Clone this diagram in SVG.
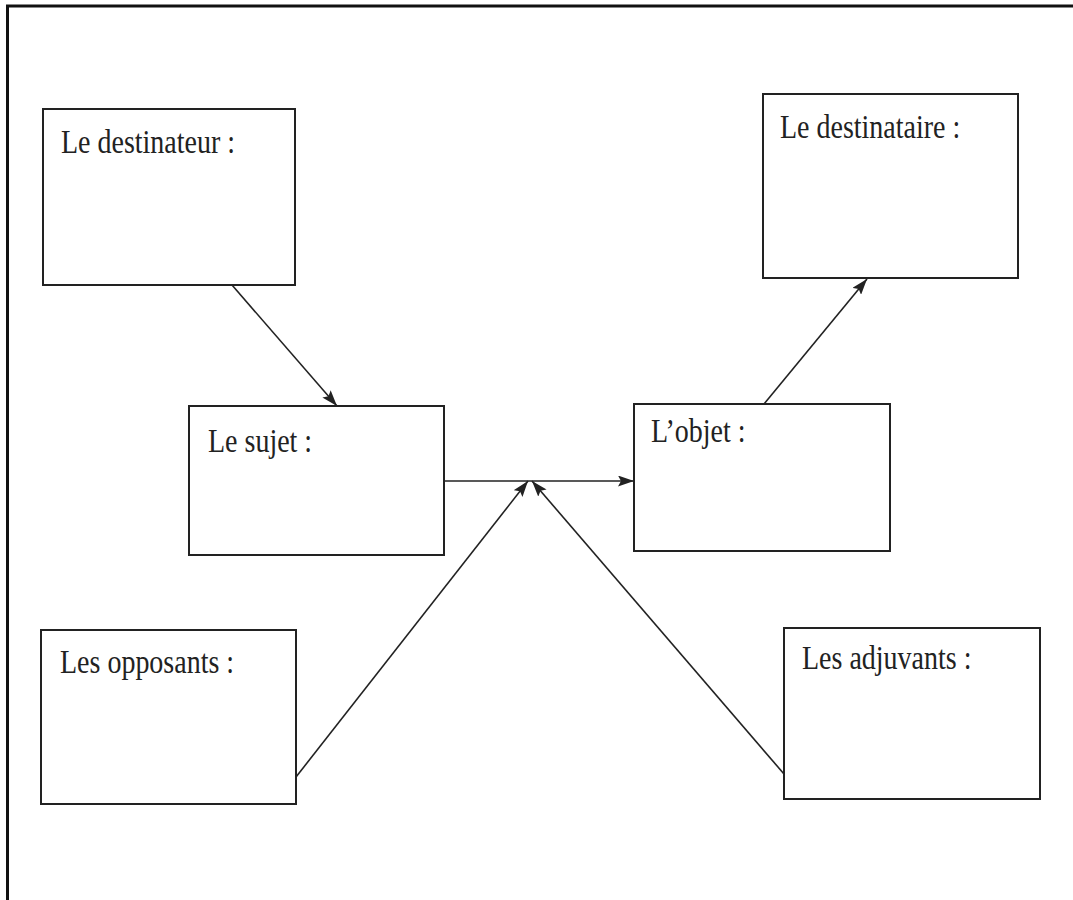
<svg xmlns="http://www.w3.org/2000/svg" width="1073" height="900" viewBox="0 0 1073 900">
<style>
.box{fill:#fff;stroke:#222;stroke-width:2}
.lbl{font-family:"Liberation Serif","Times New Roman",serif;font-size:28px;fill:#222}
.con{stroke:#222;stroke-width:1.6;fill:none;marker-end:url(#ah)}
.frame{stroke:#111;stroke-width:3;fill:none}
</style>
<defs>
<marker id="ah" viewBox="0 0 16 11" refX="16" refY="5.5" markerWidth="16" markerHeight="11" markerUnits="userSpaceOnUse" orient="auto">
<path d="M0,0 L16,5.5 L0,11 L3,5.5 Z" fill="#222"/>
</marker>
</defs>
<rect width="1073" height="900" fill="#fff"/>
<path class="frame" d="M7.5,900 V6 H1073"/>
<g id="destinateur"><rect class="box" x="43" y="109" width="252" height="176"/><text class="lbl" transform="translate(61,153) scale(1,1.2)">Le destinateur :</text></g>
<g id="destinataire"><rect class="box" x="763" y="94" width="255" height="184"/><text class="lbl" transform="translate(780,138) scale(1,1.2)">Le destinataire :</text></g>
<g id="sujet"><rect class="box" x="189" y="406" width="255" height="149"/><text class="lbl" transform="translate(208,452) scale(1,1.2)">Le sujet :</text></g>
<g id="objet"><rect class="box" x="634" y="404" width="256" height="147"/><text class="lbl" transform="translate(651,442) scale(1,1.2)">L’objet :</text></g>
<g id="opposants"><rect class="box" x="41" y="630" width="255" height="174"/><text class="lbl" transform="translate(60,673) scale(1,1.2)">Les opposants :</text></g>
<g id="adjuvants"><rect class="box" x="784" y="628" width="256" height="171"/><text class="lbl" transform="translate(802,669) scale(1,1.2)">Les adjuvants :</text></g>
<g id="connectors">
<line class="con" x1="232" y1="285" x2="337" y2="406"/>
<line class="con" x1="444" y1="481" x2="634" y2="481"/>
<line class="con" x1="296" y1="777" x2="528" y2="481"/>
<line class="con" x1="784" y1="774" x2="532" y2="481"/>
<line class="con" x1="764" y1="404" x2="867" y2="279"/>
</g>
</svg>
